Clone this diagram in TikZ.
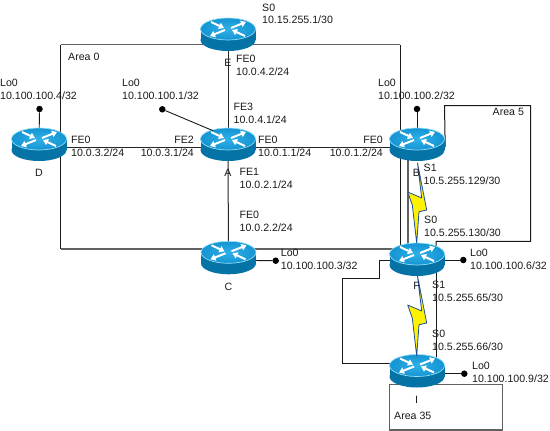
\documentclass[tikz,border=0pt]{standalone}
\usepackage{fontspec}
\usepackage{xcolor}
\usetikzlibrary{arrows.meta,backgrounds}
\setmainfont{Liberation Sans}
\definecolor{routertop}{HTML}{1494D2}
\definecolor{routerglow}{HTML}{2FB0E8}
\definecolor{routerside}{HTML}{0673A6}
\definecolor{routerrim}{HTML}{8FDDF8}
\definecolor{boltedge}{HTML}{1F4E96}
\begin{document}
\begin{tikzpicture}[
  x=1pt,
  y=-1pt,
  addr/.style={font=\fontsize{10.6}{12.7}\selectfont, text=black!90, anchor=west, align=left, inner sep=0pt},
  addrright/.style={addr, anchor=east, align=right},
  tag/.style={font=\fontsize{10.6}{12.7}\selectfont, text=black!90, inner sep=0pt},
  routernode/.style={minimum width=56pt, minimum height=33pt, inner sep=0pt},
  lodot/.style={circle, fill=black, inner sep=0pt, minimum size=6.5pt},
  lolink/.style={draw=black!90, line width=0.9pt},
  link/.style={draw=black!85, line width=1pt},
  boundary/.style={draw=black!90, line width=1pt},
  backbone/.style={draw=black!62, line width=1.4pt},
  zap/.style={fill=yellow, draw=boltedge, line width=0.8pt, line join=round},
  whitearrow/.style={draw=white, line width=2pt, -{Triangle[length=5pt,width=6.5pt]}}
]
\useasboundingbox (0,0) rectangle (550,431);
% routers
\foreach \name/\x/\y in {E/228/37,A/228/147,D/39/147,B/417/147,C/228.5/260.3,F/417/262,I/417/373.5} {
  \node[routernode] (\name) at (\x,\y) {};
  \begin{scope}[shift={(\x,\y-2.5)}]
    \fill[routerside] (0,5.5) ellipse [x radius=27.5, y radius=11];
    \fill[routerside] (-27.5,-5.5) rectangle (27.5,5.5);
    \shade[inner color=routerglow, outer color=routertop, draw=routerrim, line width=0.7pt] (0,-5.5) ellipse [x radius=27.5, y radius=11];
    \draw[whitearrow] (-17,-12.5) -- (-4,-6.5);
    \draw[whitearrow] (17,1.5) -- (4,-4.5);
    \draw[whitearrow] (3,-6.5) -- (18,-12.5);
    \draw[whitearrow] (-3,-4.5) -- (-18,1.5);
  \end{scope}
}
% loopbacks
\node[lodot] (loD) at (39.5,109) {};
\node[lodot] (loA) at (162.3,109.3) {};
\node[lodot] (loB) at (417,109) {};
\node[lodot] (loC) at (275.7,260.7) {};
\node[lodot] (loF) at (463.3,260) {};
\node[lodot] (loI) at (464.3,373.7) {};
\coordinate (loAend) at (213,130.7);
\draw[lolink] (loA) -- (loAend);
% area corners
\coordinate (nw) at (60.5,44.7);
\coordinate (ne) at (400.3,44.7);
\coordinate (sw) at (60.5,249);
\coordinate (se) at (400.3,249);
\coordinate (aa) at (444.5,105.5);
\coordinate (ab) at (530.7,105.5);
\coordinate (ac) at (530.7,241.3);
\coordinate (ad) at (436,241.3);
\coordinate (fa) at (379.3,278.7);
\coordinate (fb) at (342,278.7);
\coordinate (fc) at (342,363.3);
\coordinate (sb) at (408,200);
\begin{scope}[on background layer]
  \draw[backbone] (nw) -- (ne);
  \draw[backbone] (sw) -- (se);
  \draw[boundary] (nw) -- (sw);
  \draw[boundary] (ne) -- (se);
  \draw[link] (E.center) -- (A.center);
  \draw[link] (A.center) -- (C.center);
  \draw[link] (D.center) -- (A.center);
  \draw[link] (A.center) -- (B.center);
  \draw[backbone] (sb |- B.center) -- (sb |- F.center);
  \draw[boundary] (B.east) -- (aa) -- (ab) -- (ac) -- (ad) -- (ad |- F.center);
  \draw[boundary] (F.center |- 0,260) -| (fa) -- (fb) -- (fc) -- (fc -| I.center);
  \draw[boundary] (ad |- F.center) -- (ad |- I.center);
  \draw[backbone, line width=1.1pt] (389.3,384.7) rectangle (502.3,430);
  \draw[lolink] (D.center) -- (loD);
  \draw[lolink] (B.center) -- (loB);
  \draw[lolink] (C.center) -- (loC);
  \draw[lolink] (F.center |- loF) -- (loF);
  \draw[lolink] (I.center |- loI) -- (loI);
\end{scope}
% serial links
\foreach \from/\dy in {B/0,F/-2} {
  \begin{scope}[shift={(\from.center)}, shift={(0,\dy)}]
    \filldraw[zap] (0.5,16) -- (4.7,51) -- (-9.3,45) -- (-4.7,58) -- (-0.3,96) -- (2,64.7) -- (9.7,63) -- cycle;
  \end{scope}
}
% router names
\node[tag] (nameE) at (228,63) {E};
\node[tag] (nameD) at (39,173) {D};
\node[tag] (nameA) at (228,173) {A};
\node[tag] (nameB) at (416.5,173) {B};
\node[tag] (nameC) at (228.5,286.7) {C};
\node[tag] (nameF) at (416.5,286) {F};
\node[tag] (nameI) at (416.5,400) {I};
% area names
\node[addr] (areaZero) at (68,57) {Area 0};
\node[addr] (areaFive) at (492.5,112) {Area 5};
\node[addr] (areaThirtyFive) at (394,416) {Area 35};
% addresses
\node[addr] (addrES) at (262,14) {S0\\10.15.255.1/30};
\node[addr] (addrEF) at (236,65.5) {FE0\\10.0.4.2/24};
\node[addr] (addrDL) at (0,89.5) {Lo0\\10.100.100.4/32};
\node[addr] (addrAL) at (122,89.5) {Lo0\\10.100.100.1/32};
\node[addr] (addrBL) at (378,89.5) {Lo0\\10.100.100.2/32};
\node[addr] (addrAU) at (233.5,113.5) {FE3\\10.0.4.1/24};
\node[addr] (addrDF) at (71,146.5) {FE0\\10.0.3.2/24};
\node[addrright] (addrAW) at (194,146.5) {FE2\\10.0.3.1/24};
\node[addr] (addrAE) at (258,146.5) {FE0\\10.0.1.1/24};
\node[addrright] (addrBF) at (383,146.5) {FE0\\10.0.1.2/24};
\node[addr] (addrAD) at (239.5,178.5) {FE1\\10.0.2.1/24};
\node[addr] (addrCF) at (239.5,221.5) {FE0\\10.0.2.2/24};
\node[addr] (addrBS) at (423.5,174.5) {S1\\10.5.255.129/30};
\node[addr] (addrFU) at (424,226.5) {S0\\10.5.255.130/30};
\node[addr] (addrCL) at (280.7,259.5) {Lo0\\10.100.100.3/32};
\node[addr] (addrFL) at (470,259.5) {Lo0\\10.100.100.6/32};
\node[addr] (addrFD) at (432,291.5) {S1\\10.5.255.65/30};
\node[addr] (addrIS) at (432,340.5) {S0\\10.5.255.66/30};
\node[addr] (addrIL) at (472,372.5) {Lo0\\10.100.100.9/32};
\end{tikzpicture}
\end{document}
